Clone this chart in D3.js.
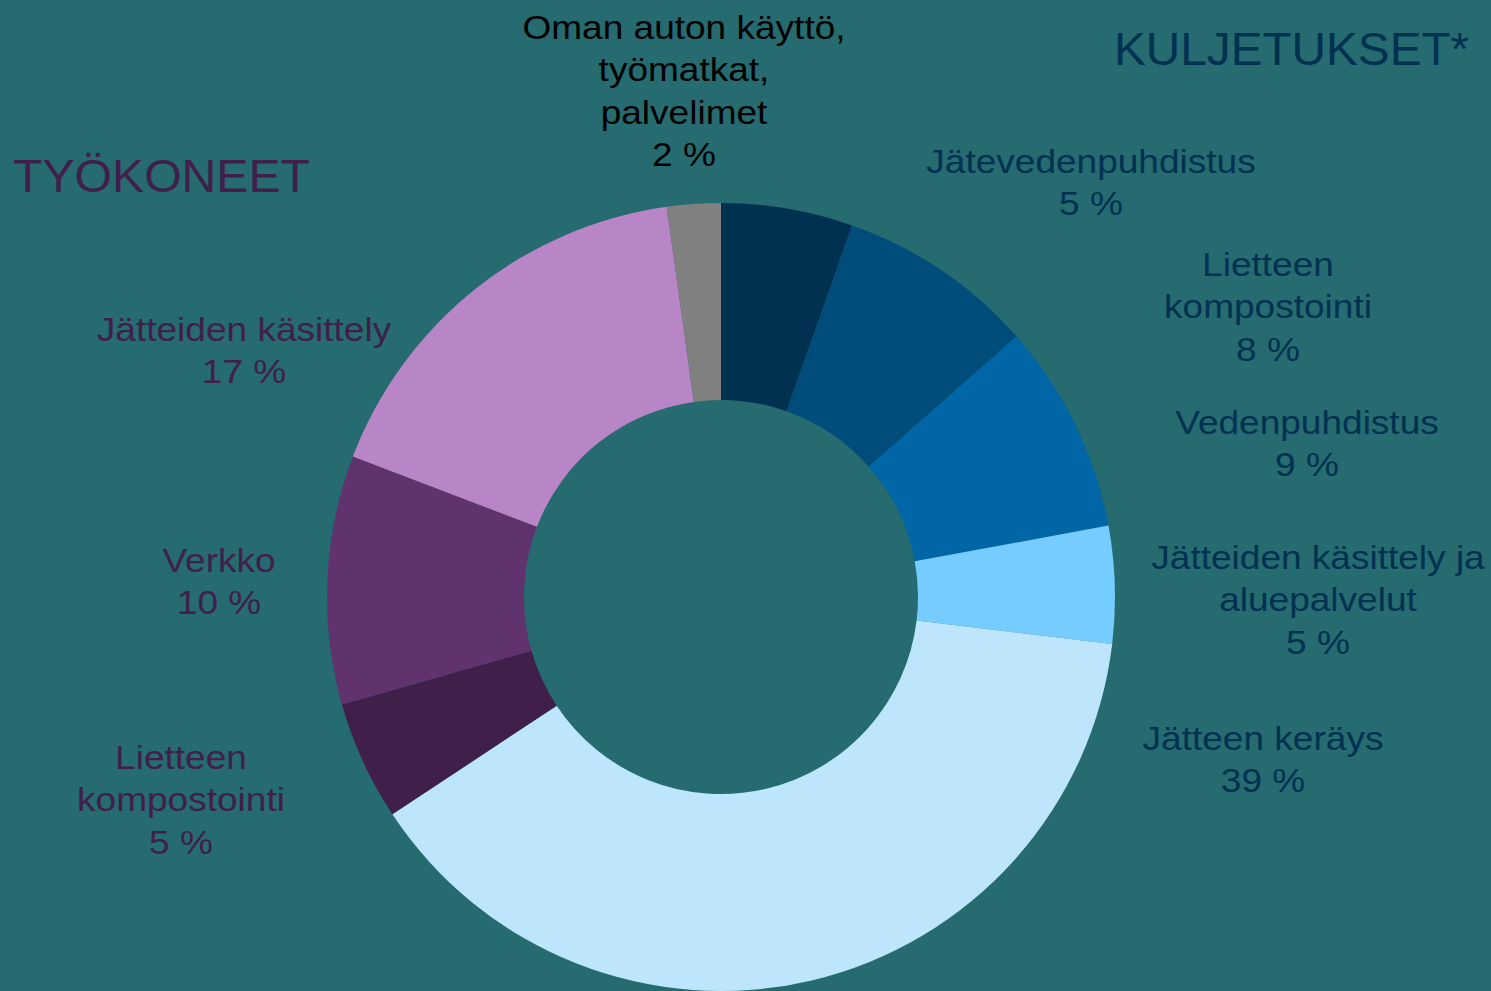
<!DOCTYPE html>
<html>
<head>
<meta charset="utf-8">
<script src="https://cdn.jsdelivr.net/npm/d3@7"></script>
<style>
  html, body { margin: 0; padding: 0; background: #256b70; overflow: hidden; }
  svg { display: block; font-family: Arial, "Liberation Sans", sans-serif; }
</style>
</head>
<body>
<div id="chart"></div>
<script>
// slice data, clockwise from 12 o'clock
const categories = [
  "Jätevedenpuhdistus",
  "Lietteen kompostointi",
  "Vedenpuhdistus",
  "Jätteiden käsittely ja aluepalvelut",
  "Jätteen keräys",
  "Lietteen kompostointi (työkoneet)",
  "Verkko",
  "Jätteiden käsittely",
  "Oman auton käyttö, työmatkat, palvelimet"
];
const shares = [5.4, 8.1, 8.6, 4.8, 38.8, 4.9, 10.2, 17.0, 2.2];
const labelLines = [
  ["Jätevedenpuhdistus"],
  ["Lietteen", "kompostointi"],
  ["Vedenpuhdistus"],
  ["Jätteiden käsittely ja", "aluepalvelut"],
  ["Jätteen keräys"],
  ["Lietteen", "kompostointi"],
  ["Verkko"],
  ["Jätteiden käsittely"],
  ["Oman auton käyttö,", "työmatkat,", "palvelimet"]
];
const colors = ["#003150", "#004c7a", "#0066a6", "#77ccff", "#bde6fc",
                "#40204a", "#61336e", "#b886c6", "#808080"];
const groupTitles = ["KULJETUKSET*", "TYÖKONEET"];

const W = 1491, H = 991;
const CX = 721, CY = 597;
const R_OUT = 394, R_IN = 197;

// where each label block sits (centre x, first line baseline)
const labelPos = [
  [1091, 173], [1268, 276], [1307, 434], [1318, 569], [1263, 750],
  [181, 769], [219, 572], [244, 341], [684, 39]
];
const labelColor = ["#003150", "#003150", "#003150", "#003150", "#003150",
                    "#40204a", "#40204a", "#40204a", "#000000"];
const LINE_H = 42.5;
const STRETCH = 1.14; // the source text runs a little wide

const svg = d3.select("#chart").append("svg")
  .attr("width", W)
  .attr("height", H);

svg.append("rect")
  .attr("width", W)
  .attr("height", H)
  .attr("fill", "#256b70");

const pie = d3.pie().sort(null).value(d => d);
const arc = d3.arc().innerRadius(R_IN).outerRadius(R_OUT);

const g = svg.append("g")
  .attr("transform", `translate(${CX}, ${CY})`);

g.selectAll("path")
  .data(pie(shares))
  .join("path")
  .attr("d", arc)
  .attr("fill", (d, i) => colors[i]);

// labels
const fmt = v => Math.round(v) + " %";
shares.forEach((v, i) => {
  const lines = labelLines[i].concat([fmt(v)]);
  const t = svg.append("g")
      .attr("transform", `translate(${labelPos[i][0]}, ${labelPos[i][1]}) scale(${STRETCH}, 1)`)
    .append("text")
      .attr("text-anchor", "middle")
      .attr("font-size", "32.5px")
      .attr("fill", labelColor[i]);
  lines.forEach((s, j) => {
    t.append("tspan")
      .attr("x", 0)
      .attr("y", j * LINE_H)
      .text(s);
  });
});

// group headings
svg.append("g")
    .attr("transform", "translate(1114, 65) scale(1.015, 1)")
  .append("text")
    .attr("font-size", "47px")
    .attr("fill", "#003150")
    .text(groupTitles[0]);

svg.append("g")
    .attr("transform", "translate(13, 192) scale(1.025, 1)")
  .append("text")
    .attr("font-size", "47px")
    .attr("fill", "#40204a")
    .text(groupTitles[1]);
</script>
</body>
</html>
